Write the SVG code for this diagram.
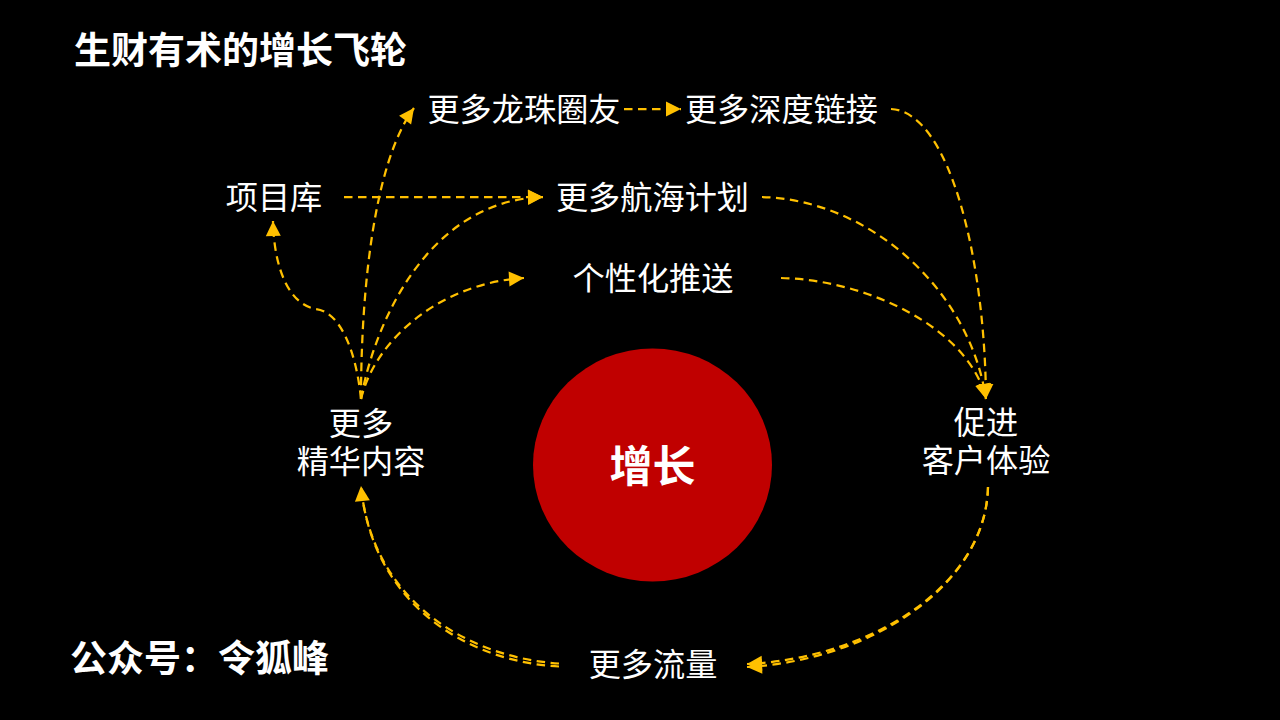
<svg xmlns="http://www.w3.org/2000/svg" width="1280" height="720" viewBox="0 0 1280 720">
<style>
text{font-family:"Noto Sans CJK SC","Noto Sans",sans-serif;fill:#fff;text-anchor:middle}
.l{font-size:32.200px}
.t{font-size:37px;font-weight:700;text-anchor:start}
.c{fill:none;stroke:#ffc000;stroke-width:2.25;stroke-dasharray:8.5 5.500}
.a{marker-end:url(#ah)}
</style>
<defs>
<marker id="ah" markerUnits="userSpaceOnUse" markerWidth="16" markerHeight="16" refX="15" refY="7.500" orient="auto" overflow="visible"><path d="M0 0L15 7.500L0 15Z" fill="#ffc000"/></marker>
</defs>
<rect width="1280" height="720" fill="#000"/>
<g id="connectors">
<path class="c a" d="M361 399C361 300 372 165 414 108"/>
<path class="c a" d="M361 399C356 350 340 312 316 309C290 305 274 270 273 221"/>
<path class="c a" d="M361 399C375 320 430 200 543 197"/>
<path class="c a" d="M361 399C375 340 440 283 524 278"/>
<path class="c a" d="M344 197H543"/>
<path class="c a" d="M624 109H681"/>
<path class="c a" d="M891 109C950 112 985 260 986 399"/>
<path class="c a" d="M762 197C870 200 970 290 986 399"/>
<path class="c a" d="M781 278C870 280 970 330 986 399"/>
<path class="c a" d="M988 487C986 585 872 658 747 664"/>
<path class="c a" d="M988 487C986 585 872 660 747 667"/>
<path class="c a" d="M559 663.500C472 658 372 604 361 486"/>
<path class="c" d="M559 666.500C468 662 372 604 361 486"/>
</g>
<g id="node-center"><ellipse cx="652.500" cy="465" rx="119.500" ry="116.500" fill="#c00000"/><text x="652.500" y="482" font-size="43" font-weight="700">增长</text></g>
<g id="title"><text class="t" x="74" y="64">生财有术的增长飞轮</text></g>
<g id="footer"><text class="t" x="70" y="672">公众号：令狐峰</text></g>
<g id="node-longzhu"><text class="l" x="524" y="121">更多龙珠圈友</text></g>
<g id="node-shendu"><text class="l" x="781.500" y="121">更多深度链接</text></g>
<g id="node-xiangmu"><text class="l" x="274" y="209">项目库</text></g>
<g id="node-hanghai"><text class="l" x="652.500" y="209">更多航海计划</text></g>
<g id="node-tuisong"><text class="l" x="653" y="290">个性化推送</text></g>
<g id="node-jinghua"><text class="l" x="361" y="435">更多</text><text class="l" x="361" y="473">精华内容</text></g>
<g id="node-tiyan"><text class="l" x="986" y="434">促进</text><text class="l" x="986" y="472">客户体验</text></g>
<g id="node-liuliang"><text class="l" x="653" y="676">更多流量</text></g>
</svg>
